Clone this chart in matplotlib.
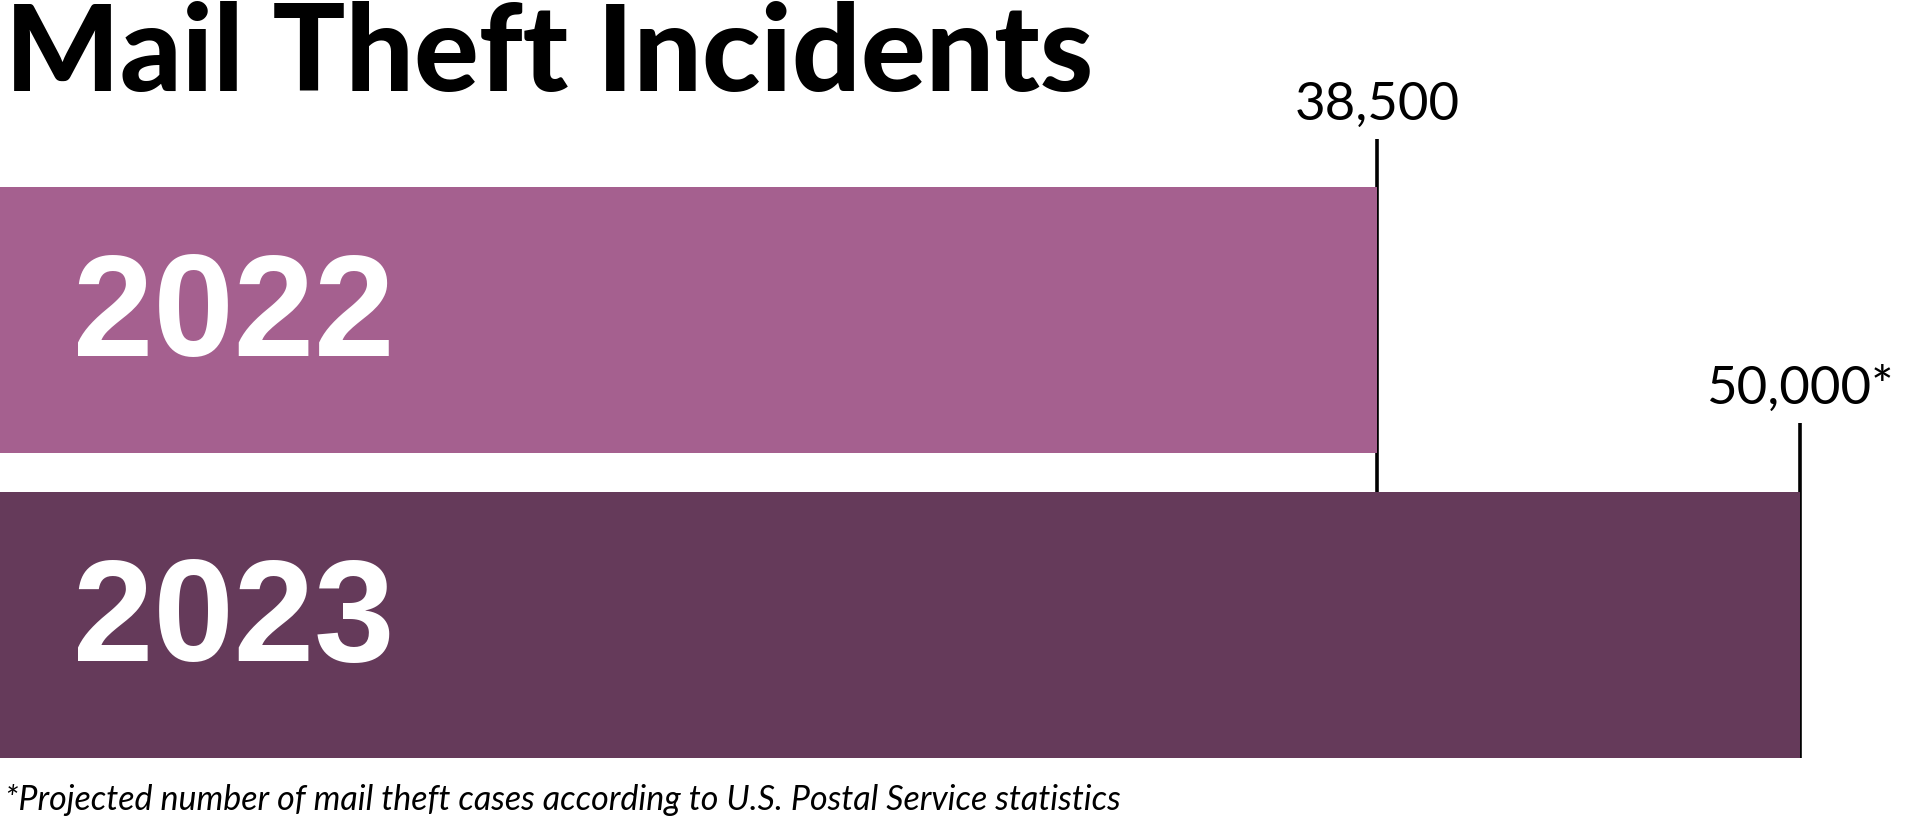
import matplotlib.pyplot as plt

years = ['2022', '2023']
incidents = [38500, 50000]
value_labels = ['38,500', '50,000*']
bar_colors = ['#A5608F', '#653A5A']

title = 'Mail Theft Incidents'
footnote = '*Projected number of mail theft cases according to U.S. Postal Service statistics'

W, H = 1920, 831
fig = plt.figure(figsize=(W / 100, H / 100), dpi=100)
fig.patch.set_facecolor('white')
ax = fig.add_axes([0, 0, 1, 1])

# 38,500 sits at ~1377 px and 50,000 at ~1800 px in the original
px_per_unit = (1800 - 1377) / (50000 - 38500)
x0 = 1800 - 50000 * px_per_unit      # pixel of zero (a bit left of the edge)
ax.set_xlim(-x0 / px_per_unit, (W - x0) / px_per_unit)
row = 305                    # px between bar centres
ax.set_ylim(1 + (H - 625) / row, -320 / row)
ax.axis('off')

bar_h = 266 / row
ys = list(range(len(years)))

# reference lines first so the 2023 bar covers them
line_tops = [-0.593, 0.338]
for y, v, top, lab in zip(ys, incidents, line_tops, value_labels):
    ax.vlines(v, top, 1 + bar_h / 2, color='black', lw=2.6, zorder=1)
    ax.text(v, top - 19 / row, lab, ha='center', va='baseline',
            fontsize=38, family='Lato', color='black')

ax.barh(ys, incidents, height=bar_h, color=bar_colors, lw=0, zorder=2)

for y, yr in zip(ys, years):
    ax.text((73 - x0) / px_per_unit, y + 36 / row, yr, ha='left', va='baseline',
            fontsize=104, fontweight='bold', family='Liberation Sans',
            color='white', zorder=3)

fig.text(5 / W, 1 - 91 / H, title, ha='left', va='baseline',
         fontsize=87, fontweight='black', family='Lato', color='black')
fig.text(5 / W, 1 - 810 / H, footnote, ha='left', va='baseline',
         fontsize=24.5, style='italic', family='Lato', color='black')

fig.savefig('out.png', dpi=100, facecolor='white')
